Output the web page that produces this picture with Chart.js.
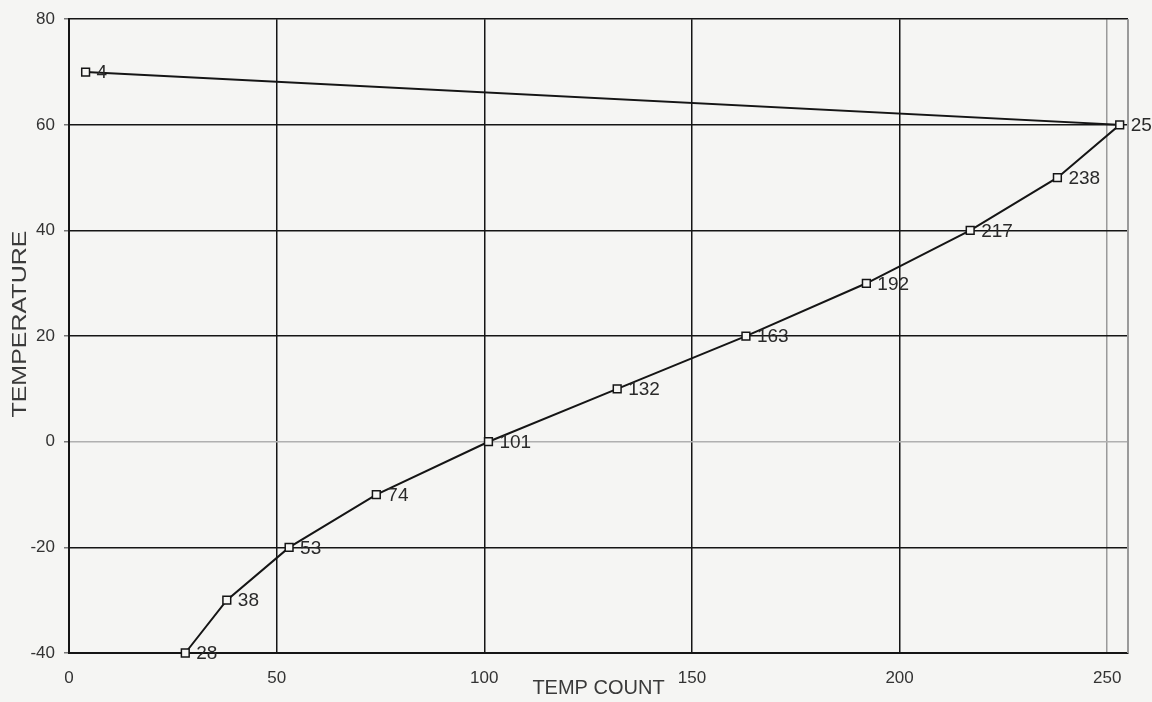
<!DOCTYPE html>
<html>
<head>
<meta charset="utf-8">
<script src="https://cdn.jsdelivr.net/npm/chart.js@4"></script>
<style>
  html, body { margin: 0; padding: 0; background: #f5f5f3; }
  #wrap { width: 1152px; height: 702px; position: relative; }
</style>
</head>
<body>
<div id="wrap"><canvas id="chart" width="1152" height="702"></canvas></div>
<script>
// значения
const tempCount = [28, 38, 53, 74, 101, 132, 163, 192, 217, 238, 253, 4];
const temperature = [-40, -30, -20, -10, 0, 10, 20, 30, 40, 50, 60, 70];
const pointLabels = ['28', '38', '53', '74', '101', '132', '163', '192', '217', '238', '253', '4'];
const xTickLabels = [0, 50, 100, 150, 200, 250];
const yTickLabels = [-40, -20, 0, 20, 40, 60, 80];
const xTitle = 'TEMP COUNT';
const yTitle = 'TEMPERATURE';

const FONT = '"Liberation Sans", Arial, sans-serif';

// подписи точек справа от маркера
const pointLabelPlugin = {
    id: 'pointLabels',
    afterDatasetsDraw(chart) {
        const ctx = chart.ctx;
        const meta = chart.getDatasetMeta(0);
        ctx.save();
        ctx.font = '19px ' + FONT;
        ctx.fillStyle = '#2a2a2a';
        ctx.textAlign = 'left';
        ctx.textBaseline = 'middle';
        meta.data.forEach((pt, i) => {
            ctx.fillText(pointLabels[i], pt.x + 11, pt.y + 1);
        });
        ctx.restore();
    }
};

// заголовки осей и правая рамка
const axisTitlePlugin = {
    id: 'axisTitles',
    afterDraw(chart) {
        const ctx = chart.ctx;
        const area = chart.chartArea;
        ctx.save();
        ctx.fillStyle = '#3a3a3a';
        ctx.font = '20px ' + FONT;
        ctx.textAlign = 'center';
        ctx.textBaseline = 'middle';
        ctx.fillText(xTitle, (area.left + area.right) / 2, area.bottom + 35);

        ctx.translate(20, (area.top + area.bottom) / 2 - 12);
        ctx.rotate(-Math.PI / 2);
        ctx.scale(1.25, 1);
        ctx.fillText(yTitle, 0, 0);
        ctx.restore();

        ctx.save();
        ctx.strokeStyle = '#9a9a9a';
        ctx.lineWidth = 2;
        ctx.beginPath();
        ctx.moveTo(area.right, area.top);
        ctx.lineTo(area.right, area.bottom);
        ctx.stroke();
        ctx.restore();
    }
};

const ctx = document.getElementById('chart').getContext('2d');
new Chart(ctx, {
    type: 'scatter',
    data: {
        datasets: [{
            data: tempCount.map((x, i) => ({ x: x, y: temperature[i] })),
            showLine: true,
            borderColor: '#151515',
            borderWidth: 2,
            tension: 0,
            pointStyle: 'rect',
            pointRadius: 5.5,
            pointBorderWidth: 1.5,
            pointBorderColor: '#151515',
            pointBackgroundColor: '#f6f6f4',
            clip: false
        }]
    },
    options: {
        responsive: false,
        animation: false,
        layout: { padding: { top: 17, right: 24, left: 0, bottom: 0 } },
        plugins: {
            legend: { display: false },
            tooltip: { enabled: false }
        },
        scales: {
            x: {
                type: 'linear',
                min: 0,
                max: 255,
                afterBuildTicks: (scale) => {
                    scale.ticks = xTickLabels.map(v => ({ value: v })).concat([{ value: 255 }]);
                },
                afterFit: (scale) => { scale.height = 49; },
                grid: {
                    color: (c) => (c.tick && c.tick.value >= 250) ? '#9a9a9a' : '#151515',
                    lineWidth: 1.5,
                    drawTicks: false
                },
                border: { color: '#151515', width: 2 },
                ticks: {
                    padding: 15,
                    color: '#333',
                    font: { family: FONT, size: 17 },
                    maxRotation: 0,
                    callback: (v) => xTickLabels.includes(v) ? String(v) : ''
                }
            },
            y: {
                type: 'linear',
                min: -40,
                max: 80,
                afterBuildTicks: (scale) => {
                    scale.ticks = yTickLabels.map(v => ({ value: v }));
                },
                afterFit: (scale) => { scale.width = 69; },
                grid: {
                    color: (c) => (c.tick && c.tick.value === 0) ? '#b0b0b0' : '#151515',
                    tickColor: '#777',
                    lineWidth: 1.5,
                    tickLength: 5
                },
                border: { color: '#151515', width: 2 },
                ticks: {
                    padding: 9,
                    color: '#333',
                    font: { family: FONT, size: 17 }
                }
            }
        }
    },
    plugins: [pointLabelPlugin, axisTitlePlugin]
});
</script>
</body>
</html>
